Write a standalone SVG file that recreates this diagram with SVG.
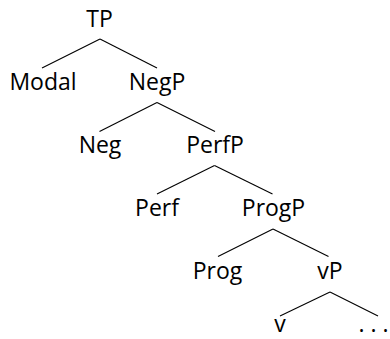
<svg xmlns="http://www.w3.org/2000/svg" width="390" height="339" viewBox="0 0 390 339">
<style>
.n text{font-family:"Open Sans","Noto Sans","DejaVu Sans",sans-serif;font-size:23px;fill:#000;text-anchor:middle}
.e line{stroke:#000;stroke-width:1.1}
</style>
<rect width="390" height="339" fill="#fff"/>
<g class="e" id="connectors">
<line x1="100" y1="39" x2="42" y2="68"/>
<line x1="100" y1="39" x2="157" y2="68"/>
<line x1="157" y1="102.5" x2="99.5" y2="131.5"/>
<line x1="157" y1="102.5" x2="215" y2="131.5"/>
<line x1="214.5" y1="165.5" x2="157" y2="194"/>
<line x1="214.5" y1="165.5" x2="272.5" y2="194"/>
<line x1="273" y1="229" x2="218" y2="256.5"/>
<line x1="273" y1="229" x2="328.5" y2="256.5"/>
<line x1="330" y1="292" x2="280" y2="316"/>
<line x1="330" y1="292" x2="378" y2="316"/>
</g>
<g class="n" id="TP"><text x="99.5" y="27">TP</text></g>
<g class="n" id="Modal"><text x="43" y="90">Modal</text></g>
<g class="n" id="NegP"><text x="157" y="90">NegP</text></g>
<g class="n" id="Neg"><text x="100" y="153">Neg</text></g>
<g class="n" id="PerfP"><text x="215" y="153">PerfP</text></g>
<g class="n" id="Perf"><text x="157" y="216">Perf</text></g>
<g class="n" id="ProgP"><text x="273.5" y="216">ProgP</text></g>
<g class="n" id="Prog"><text x="217.5" y="279">Prog</text></g>
<g class="n" id="vP"><text x="330" y="279">vP</text></g>
<g class="n" id="v"><text x="280" y="332">v</text></g>
<g class="n" id="dots"><text x="373.5" y="332">. . .</text></g>
</svg>
